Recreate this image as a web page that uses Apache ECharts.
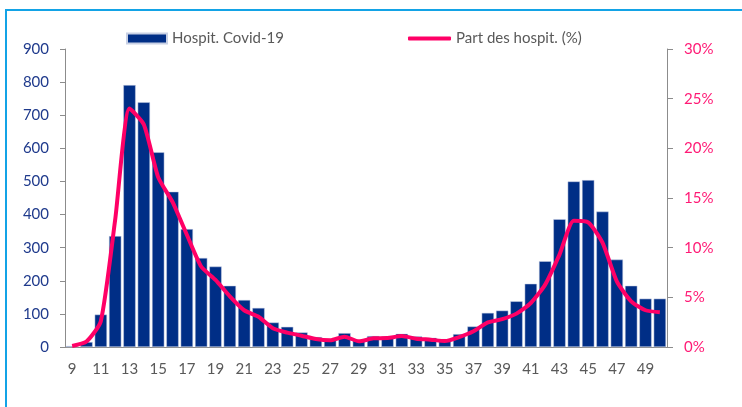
<!DOCTYPE html>
<html>
<head>
<meta charset="utf-8">
<script src="https://cdn.jsdelivr.net/npm/echarts@6/dist/echarts.min.js"></script>
<style>
  html, body { margin: 0; padding: 0; background: #fff; }
  #chart { width: 742px; height: 407px; position: relative; }
  /* cadre bleu du graphique */
  .frame {
    position: absolute; left: 5px; top: 9px; width: 760px; height: 420px;
    border-top: 2px solid #13a3e6; border-left: 2px solid #13a3e6;
    pointer-events: none;
  }
</style>
</head>
<body>
<div id="chart"></div>
<div class="frame"></div>
<script>
// semaines
const weeks = []
for (let w = 9; w <= 50; w++) weeks.push(String(w))

// hospitalisations Covid-19 (nombre)
const hospit = [3, 15, 98, 335, 791, 739, 588, 469, 356, 269, 243, 185, 142, 118, 74, 61,
  44, 30, 24, 42, 20, 33, 32, 40, 32, 28, 24, 39, 62, 103, 110, 138, 191, 259, 386, 500,
  504, 409, 264, 185, 146, 146]

// part des hospitalisations (%)
const part = [0.1, 0.55, 2.6, 12.8, 24.0, 22.4, 17.1, 14.6, 11.3, 8.1, 6.75, 5.1, 3.7, 3.05,
  1.9, 1.45, 1.14, 0.8, 0.67, 1.04, 0.57, 0.87, 0.9, 1.1, 0.84, 0.74, 0.6, 1.0, 1.58, 2.48,
  2.8, 3.36, 4.43, 6.28, 9.3, 12.7, 12.55, 10.5, 6.6, 4.6, 3.7, 3.5]

const myChart = echarts.init(document.getElementById("chart"))
const font = "Lato, 'Open Sans', sans-serif"
const option = {
  animation: false,
  textStyle: { fontFamily: font },
  legend: [
    {
      data: [{ name: "Hospit. Covid-19", icon: "rect" }],
      left: 121, top: 26,
      itemWidth: 40, itemHeight: 10, itemGap: 6,
      textStyle: { color: "#595959", fontSize: 15, fontFamily: font }
    },
    {
      // icône : simple trait épais, sans marqueur
      data: [{ name: "Part des hospit. (%)", icon: "roundRect" }],
      left: 403, top: 26,
      itemWidth: 43, itemHeight: 4, itemGap: 4,
      textStyle: { color: "#595959", fontSize: 15, fontFamily: font }
    }
  ],
  grid: { left: 65, right: 75, top: 49, bottom: 60 },
  xAxis: {
    type: "category",
    data: weeks,
    axisLine: { lineStyle: { color: "#8c8c8c", width: 1 } },
    axisTick: { show: false },
    axisLabel: { interval: 1, color: "#595959", fontSize: 15, margin: 15 }
  },
  yAxis: [
    {
      type: "value",
      min: 0, max: 900, interval: 100,
      splitLine: { show: false },
      axisLine: { show: true, lineStyle: { color: "#8c8c8c" } },
      axisTick: { show: true, length: 5, lineStyle: { color: "#8c8c8c" } },
      axisLabel: { color: "#1f3a8c", fontSize: 15, margin: 16 }
    },
    {
      type: "value",
      min: 0, max: 30, interval: 5,
      splitLine: { show: false },
      axisLine: { show: true, lineStyle: { color: "#8c8c8c" } },
      axisTick: { show: true, length: 6, lineStyle: { color: "#8c8c8c" } },
      axisLabel: { color: "#ff1a75", fontSize: 15, margin: 17, formatter: "{value}%" }
    }
  ],
  series: [
    {
      name: "Hospit. Covid-19",
      type: "bar",
      data: hospit,
      barCategoryGap: "14%",
      itemStyle: { color: "#002e86", borderColor: "#c8d0e4", borderWidth: 0.5 }
    },
    {
      name: "Part des hospit. (%)",
      type: "line",
      yAxisIndex: 1,
      data: part,
      symbol: "none",
      smooth: 0.2,
      lineStyle: { color: "#ff0066", width: 4 },
      itemStyle: { color: "#ff0066" }
    }
  ]
}
myChart.setOption(option)
</script>
</body>
</html>
